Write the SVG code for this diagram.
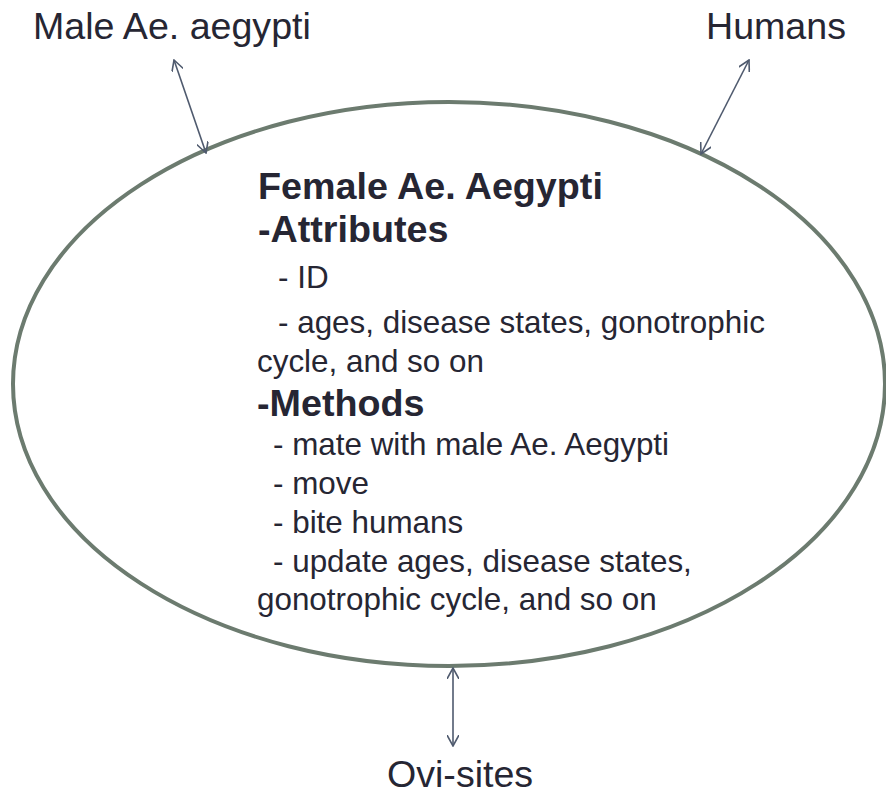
<svg xmlns="http://www.w3.org/2000/svg" width="886" height="794" viewBox="0 0 886 794">
<style>
.lbl{font-family:"Liberation Sans",Arial,sans-serif;font-size:37.6px;fill:#262633}
.t{font-family:"Liberation Sans",Arial,sans-serif;font-size:31.4px;fill:#262633}
.b{font-family:"Liberation Sans",Arial,sans-serif;font-size:37.7px;font-weight:bold;fill:#262633}
.con{stroke:#4f5a6e;stroke-width:1.6;fill:none;marker-start:url(#ah);marker-end:url(#ah)}
</style>
<defs>
<marker id="ah" viewBox="0 0 12 12" refX="11" refY="6" markerWidth="12" markerHeight="12" markerUnits="userSpaceOnUse" orient="auto-start-reverse">
<path d="M0,0 L11,6 L0,12" fill="none" stroke="#4f5a6e" stroke-width="1.6"/>
</marker>
</defs>
<rect width="886" height="794" fill="#fff"/>
<g id="female">
<ellipse cx="449" cy="384" rx="436" ry="282" fill="none" stroke="#6c7b6f" stroke-width="4"/>
<text class="b" x="258" y="199">Female Ae. Aegypti</text>
<text class="b" x="258" y="242">-Attributes</text>
<text class="t" x="278" y="288">- ID</text>
<text class="t" x="278" y="333">- ages, disease states, gonotrophic</text>
<text class="t" x="257" y="372">cycle, and so on</text>
<text class="b" x="257" y="416">-Methods</text>
<text class="t" x="273" y="455">- mate with male Ae. Aegypti</text>
<text class="t" x="273" y="494">- move</text>
<text class="t" x="273" y="533">- bite humans</text>
<text class="t" x="273" y="572">- update ages, disease states,</text>
<text class="t" x="257" y="610">gonotrophic cycle, and so on</text>
</g>
<g id="male"><text class="lbl" x="33" y="39">Male Ae. aegypti</text></g>
<g id="humans"><text class="lbl" x="706" y="39">Humans</text></g>
<g id="ovisites"><text class="lbl" x="387" y="787">Ovi-sites</text></g>
<g id="connectors">
<line class="con" x1="174" y1="60" x2="206" y2="153"/>
<line class="con" x1="749" y1="60" x2="701" y2="154"/>
<line class="con" x1="453" y1="668" x2="453" y2="746"/>
</g>
</svg>
